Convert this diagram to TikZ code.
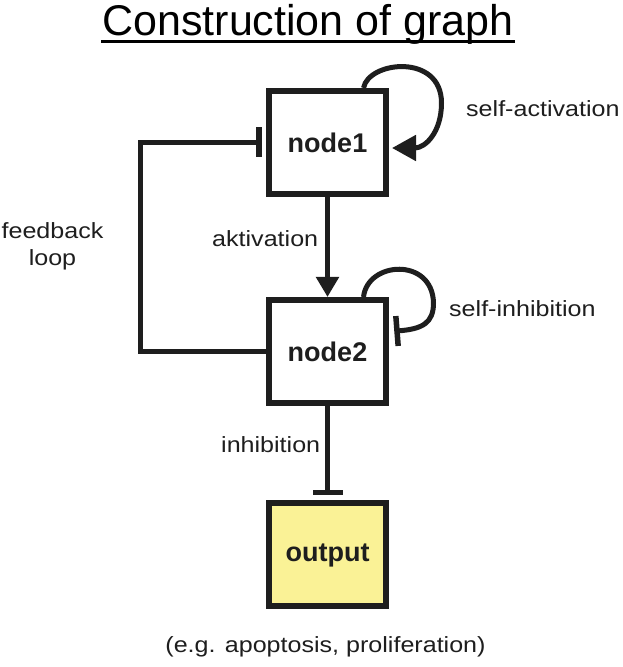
\documentclass[tikz,border=0pt]{standalone}
\usepackage{fontspec}
\setmainfont{Liberation Sans}
\newfontfamily\lblfont[FakeStretch=1.14]{Liberation Sans}
\usetikzlibrary{arrows.meta}
\definecolor{outyellow}{RGB}{250,242,150}
\definecolor{ink}{RGB}{30,30,30}
\tikzset{
  box/.style={draw=ink, line width=6pt, minimum width=117pt, minimum height=103pt,
    inner sep=0pt, font=\fontsize{27}{30}\selectfont\bfseries, text=ink, fill=white},
  lbl/.style={font=\lblfont\fontsize{22}{27}\selectfont, text=ink, inner sep=0pt},
  conn/.style={draw=ink, line width=5pt},
  act/.style={conn, -{Triangle[length=20pt,width=22pt]}},
  bigact/.style={conn, -{Triangle[length=24pt,width=25pt]}},
  inh/.style={conn, -{Bar[width=30pt,line width=5.5pt]}, shorten >=-2.75pt},
}
\begin{document}
\begin{tikzpicture}[x=1pt,y=1pt]
\useasboundingbox (0,0) rectangle (623,667);
% title
\node[inner sep=0pt, anchor=base, font=\fontsize{43}{48}\selectfont, text=black] (title) at (308,631) {Construction of graph};
\draw[line width=3pt, black] (101,625) -- (515,625);
% nodes
\node[box] (n1) at (327.5,524.5) {node1};
\node[box] (n2) at (327.5,315.5) {node2};
\node[box, fill=outyellow] (out) at (327.5,112) {output};
% aktivation
\draw[act] (n1.south) -- (n2.north);
% self-activation
\draw[bigact] ([xshift=36pt]n1.north) .. controls ([xshift=41pt,yshift=27pt]n1.north) and ([xshift=114pt,yshift=35pt]n1.north) .. ([xshift=114pt,yshift=-15pt]n1.north)
  .. controls ([xshift=114pt,yshift=-44pt]n1.north) and ([xshift=98pt,yshift=-60pt]n1.north) .. ([xshift=3pt,yshift=-5.5pt]n1.east);
% self-inhibition
\draw[inh] ([xshift=36pt]n2.north) .. controls ([xshift=40pt,yshift=36pt]n2.north) and ([xshift=105pt,yshift=40pt]n2.north) .. ([xshift=106pt,yshift=-6pt]n2.north)
  .. controls ([xshift=106pt,yshift=-26pt]n2.north) and ([xshift=95pt,yshift=-32pt]n2.north) .. ([xshift=8pt,yshift=20.5pt]n2.east);
% feedback loop
\coordinate (fbl) at (140,315.5);
\draw[inh] (n2.west) -- (fbl) |- ([xshift=-7pt]n1.west);
% inhibition
\draw[inh] (n2.south) -- ([yshift=8pt]out.north);
% labels
\node[lbl, anchor=base west] (lsa) at (466,550) {self-activation};
\node[lbl, anchor=base west] (lsi) at (449,350) {self-inhibition};
\node[lbl, anchor=base west] (lak) at (212,420) {aktivation};
\node[lbl, anchor=base west] (lin) at (221,214) {inhibition};
\node[lbl, align=center] (lfb) at (52.5,421) {feedback\\loop};
\node[lbl, anchor=base] (lex) at (325.5,14) {(e.g. apoptosis, proliferation)};
\end{tikzpicture}
\end{document}
